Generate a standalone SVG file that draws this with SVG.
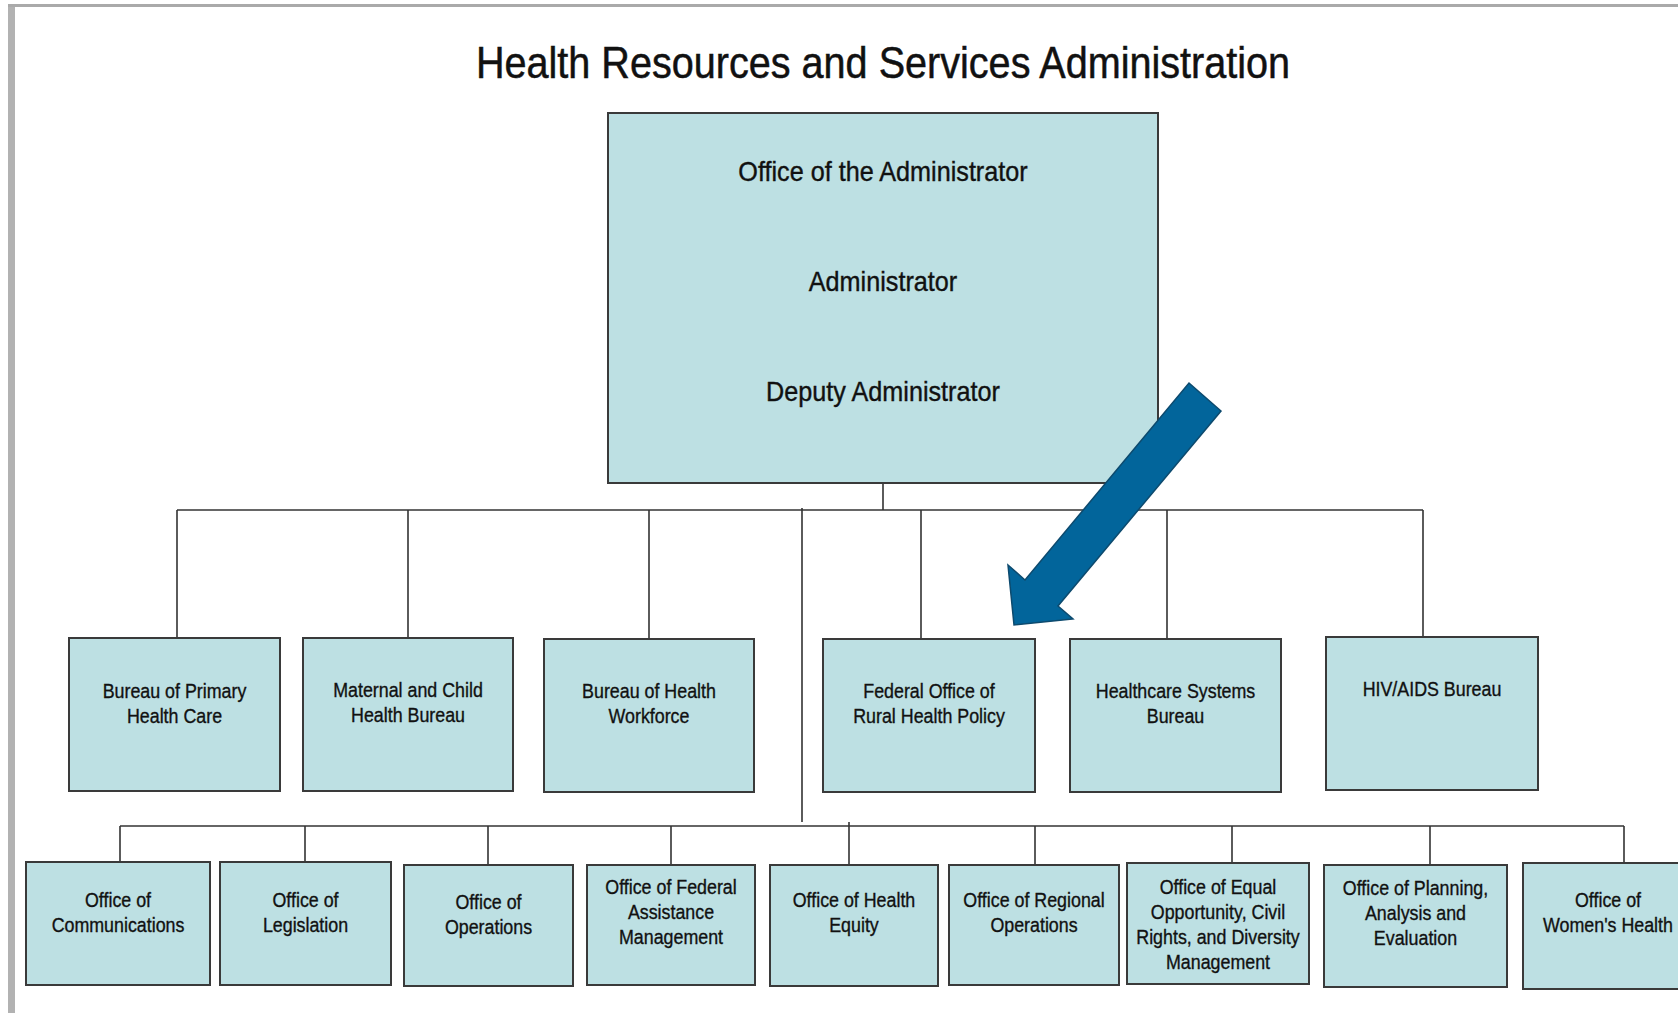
<svg xmlns="http://www.w3.org/2000/svg" width="1678" height="1013" viewBox="0 0 1678 1013">
<style>
  .box { fill: #bde0e3; stroke: #3a3a3a; stroke-width: 2; }
  .lbl { font-family: "Liberation Sans", Arial, sans-serif; font-size: 20.5px; fill: #111; stroke: #111; stroke-width: 0.35; text-anchor: middle; }
  .big { font-family: "Liberation Sans", Arial, sans-serif; font-size: 28px; fill: #111; stroke: #111; stroke-width: 0.4; text-anchor: middle; }
  .title { font-family: "Liberation Sans", Arial, sans-serif; font-size: 44px; fill: #111; stroke: #111; stroke-width: 0.5; text-anchor: middle; }
  .conn line { stroke: #333; stroke-width: 1.6; fill: none; }
</style>
<rect x="0" y="0" width="1678" height="1013" fill="#fff"/>
<g id="frame">
  <rect x="8" y="4" width="7" height="1009" fill="#b2b2b2"/>
  <rect x="8" y="4" width="1670" height="3" fill="#aaaaaa"/>
</g>
<text class="title" transform="matrix(0.9 0 0 1 883 78)">Health Resources and Services Administration</text>

<g class="conn" id="connectors">
  <line x1="883" y1="483" x2="883" y2="510"/>
  <line x1="177" y1="510" x2="1423" y2="510"/>
  <line x1="177" y1="510" x2="177" y2="638"/>
  <line x1="408" y1="510" x2="408" y2="638"/>
  <line x1="649" y1="510" x2="649" y2="639"/>
  <line x1="921" y1="510" x2="921" y2="639"/>
  <line x1="1167" y1="510" x2="1167" y2="639"/>
  <line x1="1423" y1="510" x2="1423" y2="637"/>
  <line x1="802" y1="508" x2="802" y2="822"/>
  <line x1="120" y1="826" x2="1624" y2="826"/>
  <line x1="120" y1="826" x2="120" y2="862"/>
  <line x1="305" y1="826" x2="305" y2="862"/>
  <line x1="488" y1="826" x2="488" y2="865"/>
  <line x1="671" y1="826" x2="671" y2="865"/>
  <line x1="849" y1="822" x2="849" y2="865"/>
  <line x1="1035" y1="826" x2="1035" y2="865"/>
  <line x1="1232" y1="826" x2="1232" y2="863"/>
  <line x1="1430" y1="826" x2="1430" y2="865"/>
  <line x1="1624" y1="826" x2="1624" y2="863"/>
</g>

<g id="admin">
  <rect class="box" x="608" y="113" width="550" height="370"/>
  <text class="big" transform="matrix(0.9 0 0 1 883 181)">Office of the Administrator</text>
  <text class="big" transform="matrix(0.9 0 0 1 883 291)">Administrator</text>
  <text class="big" transform="matrix(0.9 0 0 1 883 401)">Deputy Administrator</text>
</g>

<g id="bphc">
  <rect class="box" x="69" y="638" width="211" height="153"/>
  <text class="lbl" transform="matrix(0.87 0 0 1 174.5 698)"><tspan x="0" y="0">Bureau of Primary</tspan><tspan x="0" y="25">Health Care</tspan></text>
</g>
<g id="mchb">
  <rect class="box" x="303" y="638" width="210" height="153"/>
  <text class="lbl" transform="matrix(0.87 0 0 1 408 697)"><tspan x="0" y="0">Maternal and Child</tspan><tspan x="0" y="25">Health Bureau</tspan></text>
</g>
<g id="bhw">
  <rect class="box" x="544" y="639" width="210" height="153"/>
  <text class="lbl" transform="matrix(0.87 0 0 1 649 698)"><tspan x="0" y="0">Bureau of Health</tspan><tspan x="0" y="25">Workforce</tspan></text>
</g>
<g id="forhp">
  <rect class="box" x="823" y="639" width="212" height="153"/>
  <text class="lbl" transform="matrix(0.87 0 0 1 929 698)"><tspan x="0" y="0">Federal Office of</tspan><tspan x="0" y="25">Rural Health Policy</tspan></text>
</g>
<g id="hsb">
  <rect class="box" x="1070" y="639" width="211" height="153"/>
  <text class="lbl" transform="matrix(0.87 0 0 1 1175.5 698)"><tspan x="0" y="0">Healthcare Systems</tspan><tspan x="0" y="25">Bureau</tspan></text>
</g>
<g id="hab">
  <rect class="box" x="1326" y="637" width="212" height="153"/>
  <text class="lbl" transform="matrix(0.87 0 0 1 1432 696)">HIV/AIDS Bureau</text>
</g>

<g id="oc">
  <rect class="box" x="26" y="862" width="184" height="123"/>
  <text class="lbl" transform="matrix(0.87 0 0 1 118 907)"><tspan x="0" y="0">Office of</tspan><tspan x="0" y="25">Communications</tspan></text>
</g>
<g id="ol">
  <rect class="box" x="220" y="862" width="171" height="123"/>
  <text class="lbl" transform="matrix(0.87 0 0 1 305.5 907)"><tspan x="0" y="0">Office of</tspan><tspan x="0" y="25">Legislation</tspan></text>
</g>
<g id="oo">
  <rect class="box" x="404" y="865" width="169" height="121"/>
  <text class="lbl" transform="matrix(0.87 0 0 1 488.5 909)"><tspan x="0" y="0">Office of</tspan><tspan x="0" y="25">Operations</tspan></text>
</g>
<g id="ofam">
  <rect class="box" x="587" y="865" width="168" height="120"/>
  <text class="lbl" transform="matrix(0.87 0 0 1 671 894)"><tspan x="0" y="0">Office of Federal</tspan><tspan x="0" y="25">Assistance</tspan><tspan x="0" y="50">Management</tspan></text>
</g>
<g id="ohe">
  <rect class="box" x="770" y="865" width="168" height="121"/>
  <text class="lbl" transform="matrix(0.87 0 0 1 854 907)"><tspan x="0" y="0">Office of Health</tspan><tspan x="0" y="25">Equity</tspan></text>
</g>
<g id="oro">
  <rect class="box" x="949" y="865" width="170" height="120"/>
  <text class="lbl" transform="matrix(0.87 0 0 1 1034 907)"><tspan x="0" y="0">Office of Regional</tspan><tspan x="0" y="25">Operations</tspan></text>
</g>
<g id="oeo">
  <rect class="box" x="1127" y="863" width="182" height="121"/>
  <text class="lbl" transform="matrix(0.87 0 0 1 1218 894)"><tspan x="0" y="0">Office of Equal</tspan><tspan x="0" y="25">Opportunity, Civil</tspan><tspan x="0" y="50">Rights, and Diversity</tspan><tspan x="0" y="75">Management</tspan></text>
</g>
<g id="opae">
  <rect class="box" x="1324" y="865" width="183" height="122"/>
  <text class="lbl" transform="matrix(0.87 0 0 1 1415.5 895)"><tspan x="0" y="0">Office of Planning,</tspan><tspan x="0" y="25">Analysis and</tspan><tspan x="0" y="50">Evaluation</tspan></text>
</g>
<g id="owh">
  <rect class="box" x="1523" y="863" width="170" height="126"/>
  <text class="lbl" transform="matrix(0.87 0 0 1 1608 907)"><tspan x="0" y="0">Office of</tspan><tspan x="0" y="25">Women's Health</tspan></text>
</g>

<g id="arrow">
  <polygon points="1189,383 1221,411 1058,606 1073,619 1014,625 1008,565 1025,580" fill="#02659b" stroke="#0d4a6e" stroke-width="1.5" stroke-linejoin="miter"/>
</g>
</svg>
